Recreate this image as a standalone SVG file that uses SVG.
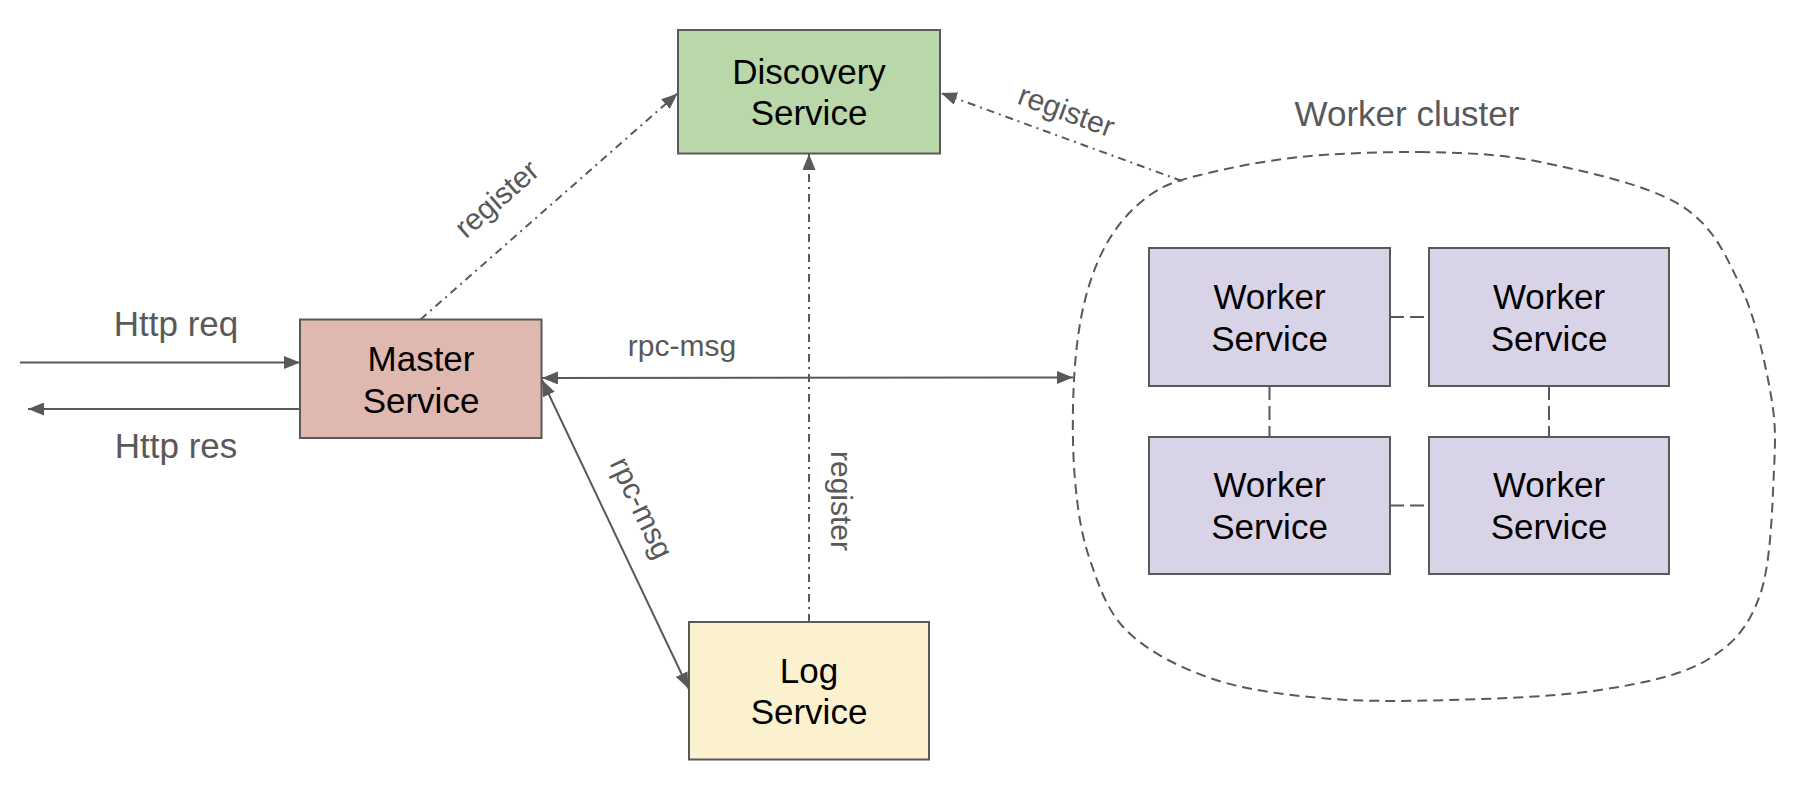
<svg xmlns="http://www.w3.org/2000/svg" width="1816" height="794" viewBox="0 0 1816 794">
<style>
  .box { stroke: #595959; stroke-width: 2; }
  .ntext { font-family: "Liberation Sans", Arial, sans-serif; font-size: 35px; fill: #000; text-anchor: middle; }
  .lbl { font-family: "Liberation Sans", Arial, sans-serif; font-size: 35px; fill: #595959; text-anchor: middle; }
  .lbl-s { font-family: "Liberation Sans", Arial, sans-serif; font-size: 30px; fill: #595959; text-anchor: middle; }
  .conn { stroke: #595959; stroke-width: 2; fill: none; }
  .dashdot { stroke-dasharray: 8 5 2 5; }
  .dash { stroke-dasharray: 14 6; }
  .cluster { stroke: #595959; stroke-width: 2; fill: none; stroke-dasharray: 10 6; }
</style>
<defs>
  <marker id="arr" viewBox="0 0 16 13" refX="16" refY="6.5" markerWidth="16" markerHeight="13" markerUnits="userSpaceOnUse" orient="auto-start-reverse">
    <path d="M0,0 L16,6.5 L0,13 z" fill="#595959"/>
  </marker>
</defs>
<rect width="1816" height="794" fill="#ffffff"/>

<g id="worker-cluster">
  <path class="cluster" d="M1420,152 C1460,152.8 1496.7,153.2 1540,162 C1583.3,170.8 1646.7,184.5 1680,205 C1713.3,225.5 1725,254.2 1740,285 C1755,315.8 1764.3,359.2 1770,390 C1775.7,420.8 1775.7,435.8 1774,470 C1772.3,504.2 1771.2,563.3 1760,595 C1748.8,626.7 1733.7,644.2 1707,660 C1680.3,675.8 1642.8,683.3 1600,690 C1557.2,696.7 1496.7,698.7 1450,700 C1403.3,701.3 1360,701.7 1320,698 C1280,694.3 1242.2,689.2 1210,678 C1177.8,666.8 1147,650.7 1127,631 C1107,611.3 1098.7,585.2 1090,560 C1081.3,534.8 1077.7,510 1075,480 C1072.3,450 1072.3,410 1074,380 C1075.7,350 1079,323.7 1085,300 C1091,276.3 1099.2,255.5 1110,238 C1120.8,220.5 1135,205.5 1150,195 C1165,184.5 1175,181.3 1200,175 C1225,168.7 1263.3,160.8 1300,157 C1336.7,153.2 1380,152 1420,152 Z"/>
  <text class="lbl" x="1407" y="126">Worker cluster</text>
</g>

<g id="connectors">
  <line class="conn" x1="20" y1="362.5" x2="300" y2="362.5" marker-end="url(#arr)"/>
  <line class="conn" x1="300" y1="409" x2="28" y2="409" marker-end="url(#arr)"/>
  <line class="conn" x1="542" y1="378" x2="1073" y2="377.5" marker-start="url(#arr)" marker-end="url(#arr)"/>
  <line class="conn" x1="542" y1="380" x2="688.5" y2="688.5" marker-start="url(#arr)" marker-end="url(#arr)"/>
  <line class="conn dashdot" x1="420.5" y1="319.5" x2="677.5" y2="93.5" marker-end="url(#arr)"/>
  <line class="conn dashdot" x1="809" y1="622" x2="809" y2="154" marker-end="url(#arr)"/>
  <line class="conn dashdot" x1="1182" y1="181" x2="941" y2="93" marker-end="url(#arr)"/>
  <line class="conn dash" x1="1390" y1="317" x2="1429" y2="317"/>
  <line class="conn dash" x1="1390" y1="505.5" x2="1429" y2="505.5"/>
  <line class="conn dash" x1="1269.5" y1="386" x2="1269.5" y2="437"/>
  <line class="conn dash" x1="1549" y1="386" x2="1549" y2="437"/>
  <text class="lbl" x="176" y="336">Http req</text>
  <text class="lbl" x="176" y="458">Http res</text>
  <text class="lbl-s" x="682" y="356">rpc-msg</text>
  <text class="lbl-s" transform="translate(637,510) rotate(64.6)" x="0" y="5">rpc-msg</text>
  <text class="lbl-s" transform="translate(497.5,199.5) rotate(-41.2)" x="0" y="9">register</text>
  <text class="lbl-s" transform="translate(840,501) rotate(90)" x="0" y="9">register</text>
  <text class="lbl-s" transform="translate(1066,112) rotate(20.1)" x="0" y="9">register</text>
</g>

<g id="discovery-service">
  <rect class="box" x="678" y="30" width="262" height="123.5" fill="#b9d7a9"/>
  <text class="ntext" x="809" y="83.5">Discovery</text>
  <text class="ntext" x="809" y="125">Service</text>
</g>

<g id="master-service">
  <rect class="box" x="300" y="319.5" width="241.5" height="118.5" fill="#dfb9b0"/>
  <text class="ntext" x="421" y="371">Master</text>
  <text class="ntext" x="421" y="412.5">Service</text>
</g>

<g id="log-service">
  <rect class="box" x="689" y="622" width="240" height="137.5" fill="#fcf1cf"/>
  <text class="ntext" x="809" y="682.5">Log</text>
  <text class="ntext" x="809" y="723.5">Service</text>
</g>

<g id="worker-service-1">
  <rect class="box" x="1149" y="248" width="241" height="138" fill="#d9d3e7"/>
  <text class="ntext" x="1269.5" y="308.5">Worker</text>
  <text class="ntext" x="1269.5" y="350.5">Service</text>
</g>

<g id="worker-service-2">
  <rect class="box" x="1429" y="248" width="240" height="138" fill="#d9d3e7"/>
  <text class="ntext" x="1549" y="308.5">Worker</text>
  <text class="ntext" x="1549" y="350.5">Service</text>
</g>

<g id="worker-service-3">
  <rect class="box" x="1149" y="437" width="241" height="137" fill="#d9d3e7"/>
  <text class="ntext" x="1269.5" y="497">Worker</text>
  <text class="ntext" x="1269.5" y="539">Service</text>
</g>

<g id="worker-service-4">
  <rect class="box" x="1429" y="437" width="240" height="137" fill="#d9d3e7"/>
  <text class="ntext" x="1549" y="497">Worker</text>
  <text class="ntext" x="1549" y="539">Service</text>
</g>
</svg>
